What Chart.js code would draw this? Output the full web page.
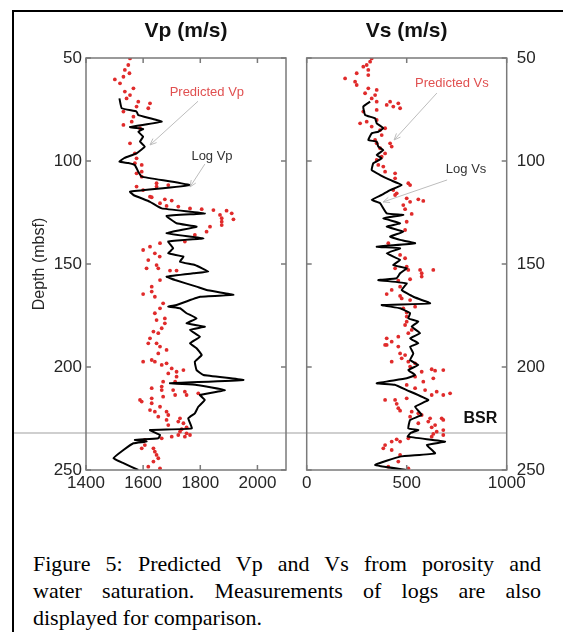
<!DOCTYPE html>
<html><head><meta charset="utf-8">
<script src="https://cdn.jsdelivr.net/npm/chart.js@4.4.0/dist/chart.umd.min.js"></script>
<style>
html,body{margin:0;padding:0;width:563px;height:632px;overflow:hidden;background:#fff;}
#frame{position:absolute;left:12px;top:10px;width:620px;height:700px;border:2px solid #000;box-sizing:border-box;}
canvas{position:absolute;left:0;top:0;}
.cap{position:absolute;left:33px;width:508px;font-family:"Liberation Serif","Times New Roman",serif;font-size:22px;line-height:27px;color:#000;white-space:nowrap;}
.j{text-align:justify;text-align-last:justify;}
</style>
</head><body>
<div id="frame"></div>
<canvas id="cVp" width="563" height="500"></canvas>
<canvas id="cVs" width="563" height="500"></canvas>
<div class="cap j" style="top:550px">Figure 5: Predicted Vp and Vs from porosity and</div>
<div class="cap j" style="top:577px">water saturation. Measurements of logs are also</div>
<div class="cap" style="top:604px">displayed for comparison.</div>
<script>
// ---------- data ----------
const depthTicks = [50, 100, 150, 200, 250];
const vpTicks = [1400, 1600, 1800, 2000];
const vsTicks = [0, 500, 1000];
const bsrDepth = 232;

const logVpDepth = [69.6,74.4,76,77.7,80.9,83.5,84.5,85.8,88.2,90.6,93,96.3,98.5,100.3,101,102,105.2,107.6,111.7,114.9,116.5,119.8,123,125.4,126.7,130.2,131.9,135.1,137.5,139.1,142.4,144.8,146.4,148.9,150.5,153.7,154.5,156.1,157.8,161,162.6,165,165.9,169.9,170.7,171.5,173.9,176.4,178.8,180.4,182,185.3,188.5,190.9,194.2,197.4,201.5,203.9,206.3,207.9,208.7,211.2,213.6,216,219.3,222.5,224.9,229.8,230.6,233,234.6,235.4,236.2,237,240.3,244.3,246.7,250];
const logVp = [1517,1525,1577,1583,1665,1554,1600,1583,1600,1589,1606,1577,1535,1517,1548,1571,1583,1595,1764,1554,1566,1624,1665,1816,1682,1717,1787,1682,1811,1688,1705,1688,1741,1729,1781,1828,1776,1682,1712,1787,1822,1916,1799,1717,1688,1729,1752,1787,1752,1816,1764,1799,1764,1787,1805,1781,1787,1811,1951,1694,1787,1886,1799,1816,1793,1781,1758,1770,1624,1659,1653,1571,1612,1566,1531,1496,1531,1583];

const predVpDepth = [50.2,53.4,55.8,57.4,59.1,60.4,62.3,64.7,66.3,68,69.6,71.2,72,73.6,74.4,76,78.5,80.9,82.5,84.1,91.4,96.3,98.7,101.1,101.9,105.2,106,107.6,110.8,111.7,112.4,112.4,114.1,117.3,118.6,117.6,119.2,120.5,121.8,122.1,123,123.4,123.8,124.1,125.4,126.2,127.8,128.3,129.5,131.1,131.9,134.3,135.9,139.1,139.9,141.6,143.2,144.8,146.4,148.1,150.5,152.1,152.1,153.2,153.2,157.8,161,163.4,164.6,165.9,169.1,171.5,173.9,176.4,177.2,178.8,181.2,182.8,183.6,186.1,188.5,188.5,190.1,191.7,193.4,196.6,197.4,197.4,198.2,199,200.7,201.5,202.3,203.1,204.7,207.1,207.1,209.5,210.3,211.2,211.2,212,212.8,213.6,213.6,214.4,215.2,216,216.8,217.6,219.3,220.9,221.7,221.7,223.3,224.1,224.9,225.7,226.5,227.3,228.2,229.3,230.2,231.4,232.2,233,233,233.8,233.8,234.6,235.4,237.9,239.5,239.5,241.1,242.7,244.3,245.9,248.4,249.2];
const predVp = [1554,1548,1536,1552,1531,1501,1519,1566,1536,1554,1542,1583,1624,1577,1618,1531,1566,1560,1531,1589,1554,1571,1577,1571,1595,1595,1577,1595,1647,1688,1647,1577,1600,1624,1676,1630,1700,1659,1682,1723,1764,1805,1846,1892,1910,1869,1875,1916,1875,1875,1834,1822,1781,1746,1659,1624,1600,1641,1658,1618,1647,1612,1653,1694,1717,1659,1630,1630,1600,1641,1670,1659,1641,1676,1647,1676,1665,1636,1653,1624,1618,1647,1659,1682,1653,1630,1600,1641,1682,1665,1700,1741,1717,1688,1717,1670,1712,1665,1630,1665,1705,1746,1793,1712,1752,1670,1630,1589,1595,1630,1659,1624,1641,1682,1688,1653,1729,1682,1723,1741,1688,1752,1735,1729,1752,1764,1723,1700,1746,1665,1606,1606,1636,1595,1641,1647,1653,1636,1618,1659];

const logVsDepth = [71.2,73.6,77.7,79.3,81.7,84.1,85.8,86.6,89.8,90.6,93,94.7,97.1,98.7,101.1,104.4,106.8,109.2,111.7,114.1,116.5,118.9,120.5,125.4,126.2,127.8,130.2,131.9,134.3,136.7,138.3,139.9,141.6,142.4,144.8,148,150.5,152.1,154.5,156.9,157.8,159.4,162.6,165.9,169.1,169.9,171.5,173.9,176.4,178,180.4,183.6,186.1,188.5,190.1,193.4,196.6,199,201.5,203.9,205.5,207.9,208.6,211.2,216,219.3,223.3,225.7,229.8,230.6,232,233.8,236.2,237.9,241.9,243.5,247.6,250];
const logVs = [317,283,292,342,350,383,358,325,308,350,358,383,350,375,333,325,367,417,475,417,375,325,367,400,483,383,467,400,483,417,467,542,350,467,400,467,433,500,467,450,358,500,475,533,617,375,467,517,508,558,525,567,517,558,517,533,517,558,508,542,500,350,440,500,608,542,575,517,508,558,520,505,692,600,642,467,342,500];

const predVsDepth = [50.2,51.8,53.4,54.2,55.8,57.4,58.3,59.9,61.5,63.1,64.7,65.5,67.1,68,69.6,71.2,71.2,72,72.8,73.6,74.4,75.2,76,80.1,80.9,81.7,83.3,84.1,85,87.4,89.8,91.4,91.4,93,93.8,96.3,97.9,99.5,101.9,102.7,105.2,106,108.4,110.8,111.7,114.1,115.7,116.5,118.1,118.6,119.4,119.8,121.4,123.4,125.7,129.5,133.5,139.9,145.6,147.2,151.3,152.1,152.9,152.9,152.9,154.5,156.1,157.4,158.1,161,162.6,164.6,165.5,166.7,167.5,170.7,171.5,173.6,175.5,178,179.6,182,183.6,185.3,186.1,187.7,189.3,189.3,190.1,193.4,194.2,195.8,197.4,197.4,198.2,199.8,201.1,201.5,201.8,202.3,204.7,205.5,207.1,208.7,210.3,211.2,212,212.8,213.6,213.6,215.2,216,216,217.9,220,221.2,221.7,222.5,223.3,224.1,224.9,224.9,225.7,226.5,227.3,228.2,229.3,230.6,231.4,232.5,233,233.8,234.6,235.1,236.2,236.2,237.9,239.5,240.3,242.7,245.9,248.4,249.2];
const predVs = [325,317,300,283,308,250,308,192,242,250,308,350,292,342,325,350,417,458,400,433,467,350,283,350,300,267,325,392,367,375,342,350,417,425,367,392,375,350,358,383,392,442,442,508,517,433,450,442,500,558,583,517,483,492,525,500,492,408,467,492,500,442,508,567,633,575,575,517,458,467,425,400,467,475,517,542,483,500,500,500,492,525,508,458,400,425,400,392,458,467,492,475,425,508,542,517,625,683,642,575,542,633,583,500,542,592,650,717,625,683,500,392,442,450,458,467,525,558,575,517,617,675,683,608,558,642,625,683,650,633,683,625,508,450,467,425,392,383,425,467,458,408,508];

// annotations in data space: label position and arrow from -> to
const vpNotes = [
  {text:'Predicted Vp', color:'#e05050', tx:1823, ty:66.5, x0:1792, y0:71, x1:1624, y1:92.2},
  {text:'Log Vp', color:'#333333', tx:1841, ty:98, x0:1816, y0:101.5, x1:1764, y1:112.6}
];
const vsNotes = [
  {text:'Predicted Vs', color:'#e05050', tx:726, ty:62.1, x0:651, y0:67, x1:437, y1:89.8},
  {text:'Log Vs', color:'#333333', tx:797, ty:103.9, x0:702, y0:109.2, x1:382, y1:119.9},
  {text:'BSR', color:'#111111', bold:true, size:16, tx:868, ty:225.2}
];

// ---------- drawing ----------
Chart.defaults.font.family = "'Liberation Sans', Arial, Helvetica, sans-serif";
Chart.defaults.color = '#262626';

const pts = (d, v) => d.map((y, i) => ({x: v[i], y}));

const decor = {
  id: 'decor',
  beforeDatasetsDraw(chart, args, o) {
    const {ctx, chartArea: a, scales: {y}} = chart;
    const yb = y.getPixelForValue(bsrDepth);
    ctx.save();
    ctx.strokeStyle = '#cfcfcf'; ctx.lineWidth = 2;
    ctx.beginPath(); ctx.moveTo(a.left - o.extL, yb); ctx.lineTo(a.right + o.extR, yb); ctx.stroke();
    ctx.restore();
  },
  afterDatasetsDraw(chart, args, o) {
    const {ctx, chartArea: a, scales: {x, y}} = chart;
    ctx.save();
    ctx.strokeStyle = '#7a7a7a'; ctx.lineWidth = 1.5;
    ctx.strokeRect(a.left, a.top, a.width, a.height);
    ctx.beginPath();
    x.ticks.forEach(t => { const p = x.getPixelForValue(t.value);
      ctx.moveTo(p, a.top); ctx.lineTo(p, a.top + 5); ctx.moveTo(p, a.bottom); ctx.lineTo(p, a.bottom - 5); });
    y.ticks.forEach(t => { const p = y.getPixelForValue(t.value);
      ctx.moveTo(a.left, p); ctx.lineTo(a.left + 5, p); ctx.moveTo(a.right, p); ctx.lineTo(a.right - 5, p); });
    ctx.stroke();
    o.notes.forEach(n => {
      if (n.x0 !== undefined) {
        const X0 = x.getPixelForValue(n.x0), Y0 = y.getPixelForValue(n.y0);
        const X1 = x.getPixelForValue(n.x1), Y1 = y.getPixelForValue(n.y1);
        ctx.strokeStyle = '#bdbdbd'; ctx.lineWidth = 1;
        ctx.beginPath(); ctx.moveTo(X0, Y0); ctx.lineTo(X1, Y1);
        const ang = Math.atan2(Y1 - Y0, X1 - X0), L = 7;
        ctx.moveTo(X1, Y1); ctx.lineTo(X1 - L * Math.cos(ang - 0.4), Y1 - L * Math.sin(ang - 0.4));
        ctx.moveTo(X1, Y1); ctx.lineTo(X1 - L * Math.cos(ang + 0.4), Y1 - L * Math.sin(ang + 0.4));
        ctx.stroke();
      }
      ctx.fillStyle = n.color;
      ctx.font = (n.bold ? 'bold ' : '') + (n.size || 13) + "px 'Liberation Sans', Arial, sans-serif";
      ctx.textAlign = 'center'; ctx.textBaseline = 'middle';
      ctx.fillText(n.text, x.getPixelForValue(n.tx), y.getPixelForValue(n.ty));
    });
    ctx.restore();
  }
};

function makeChart(id, cfg) {
  return new Chart(document.getElementById(id), {
    type: 'scatter',
    data: {datasets: [
      {data: pts(cfg.logD, cfg.logV), showLine: true, borderColor: '#000', borderWidth: 2, pointRadius: 0, tension: 0.1, fill: false},
      {data: pts(cfg.predD, cfg.predV), pointRadius: 1.9, pointBackgroundColor: '#e02b2b', pointBorderWidth: 0}
    ]},
    options: {
      responsive: false, animation: false,
      layout: {padding: cfg.pad},
      plugins: {
        legend: {display: false}, tooltip: {enabled: false},
        title: {display: true, text: cfg.title, fullSize: false, color: '#111',
                font: {size: 21, weight: 'bold'}, padding: {top: 0, bottom: 14.2}},
        decor: {notes: cfg.notes, extL: cfg.extL, extR: cfg.extR}
      },
      scales: {
        x: {type: 'linear', position: 'bottom', min: cfg.xmin, max: cfg.xmax,
            afterBuildTicks: s => { s.ticks = cfg.xt.map(v => ({value: v})); },
            afterFit: s => { s.height = 30; },
            grid: {display: false, drawTicks: false}, border: {display: false},
            ticks: {padding: 3, font: {size: 17}, maxRotation: 0, autoSkip: false, callback: v => String(v)}},
        y: {type: 'linear', position: cfg.ypos, reverse: true, min: 50, max: 250,
            afterBuildTicks: s => { s.ticks = depthTicks.map(v => ({value: v})); },
            afterFit: s => { s.width = cfg.yw; },
            grid: {display: false, drawTicks: false}, border: {display: false},
            ticks: {padding: cfg.ypadT, font: {size: 17}, autoSkip: false, callback: v => String(v)},
            title: {display: cfg.ytitle !== '', text: cfg.ytitle, font: {size: 16}, padding: 0}}
      }
    },
    plugins: [decor]
  });
}

makeChart('cVp', {title: 'Vp (m/s)', logD: logVpDepth, logV: logVp, predD: predVpDepth, predV: predVp,
  xmin: 1400, xmax: 2100, xt: vpTicks, ypos: 'left', yw: 55.6, ypadT: 4, ytitle: 'Depth (mbsf)',
  pad: {left: 30.4, right: 277, top: 18.6, bottom: 0}, notes: vpNotes, extL: 72, extR: 21});
makeChart('cVs', {title: 'Vs (m/s)', logD: logVsDepth, logV: logVs, predD: predVsDepth, predV: predVs,
  xmin: 0, xmax: 1000, xt: vsTicks, ypos: 'right', yw: 56.3, ypadT: 10, ytitle: '',
  pad: {left: 306.7, right: 0, top: 18.6, bottom: 0}, notes: vsNotes, extL: 0, extR: 0});
</script>
</body></html>
